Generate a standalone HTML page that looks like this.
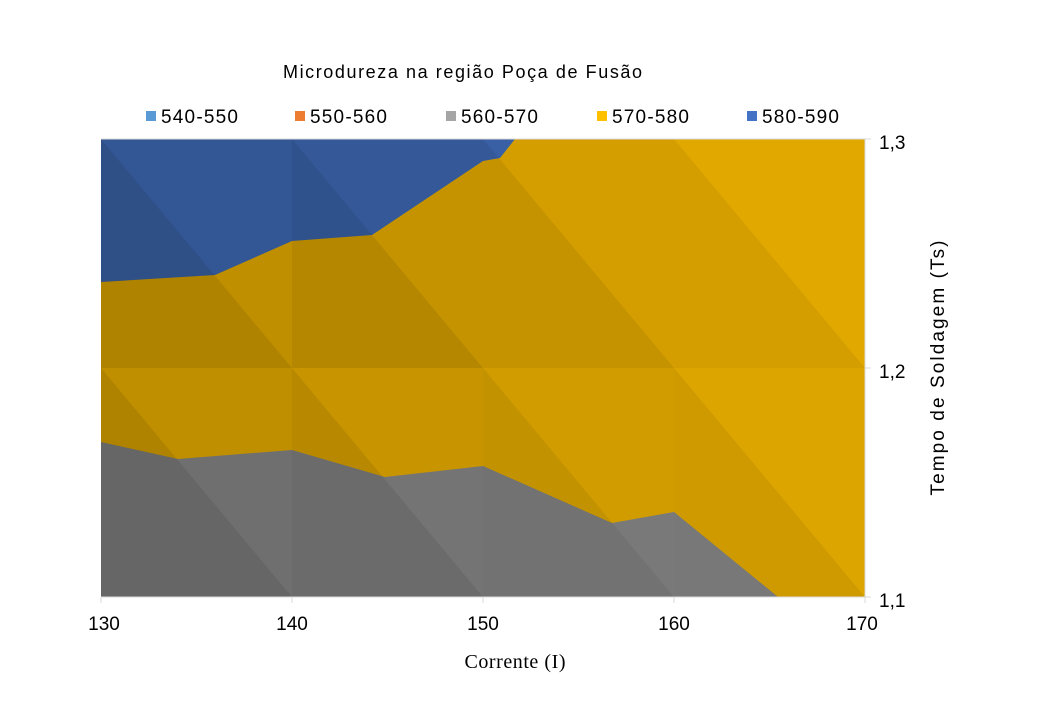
<!DOCTYPE html>
<html><head><style>
body{margin:0;background:#fff;}
svg text{font-family:"Liberation Sans",sans-serif;fill:#000;}
</style></head><body>
<svg width="1040" height="720" viewBox="0 0 1040 720" xmlns="http://www.w3.org/2000/svg">
<rect width="1040" height="720" fill="#fff"/>
<defs><clipPath id="pc"><rect x="101" y="139" width="764" height="458"/></clipPath></defs>
<g clip-path="url(#pc)">
<rect x="101" y="139" width="764" height="458" fill="#E6AC00"/>
<polygon points="101,139 515,139 500,158 483,161 372,235 292,241 215,275 101,282" fill="#3E68B2"/>
<polygon points="101,442 178,459 292,450 385,477 483,466 612,523 674,512 778,597 101,597" fill="#868686"/>
<g fill="#000">
<polygon points="101,139 292,139 292,368" opacity="0.17"/>
<polygon points="101,139 292,368 101,368" opacity="0.24"/>
<polygon points="292,139 483,139 483,368" opacity="0.14"/>
<polygon points="292,139 483,368 292,368" opacity="0.21"/>
<polygon points="483,139 674,139 674,368" opacity="0.08"/>
<polygon points="483,139 674,368 483,368" opacity="0.14"/>
<polygon points="674,139 865,139 865,368" opacity="0.02"/>
<polygon points="674,139 865,368 674,368" opacity="0.08"/>
<polygon points="101,368 292,368 292,597" opacity="0.17"/>
<polygon points="101,368 292,597 101,597" opacity="0.24"/>
<polygon points="292,368 483,368 483,597" opacity="0.13"/>
<polygon points="292,368 483,597 292,597" opacity="0.20"/>
<polygon points="483,368 674,368 674,597" opacity="0.09"/>
<polygon points="483,368 674,597 483,597" opacity="0.15"/>
<polygon points="674,368 865,368 865,597" opacity="0.04"/>
<polygon points="674,368 865,597 674,597" opacity="0.10"/>
</g>
</g>
<line x1="101" y1="139" x2="865" y2="139" stroke="#d9d9d9"/>
<line x1="101" y1="597" x2="865" y2="597" stroke="#d9d9d9"/>
<line x1="865" y1="139" x2="865" y2="597" stroke="#d9d9d9"/>
<g stroke="#d9d9d9">
<line x1="865" y1="139" x2="871" y2="139"/><line x1="865" y1="368" x2="871" y2="368"/><line x1="865" y1="597" x2="871" y2="597"/>
<line x1="101" y1="597" x2="101" y2="603"/><line x1="292" y1="597" x2="292" y2="603"/><line x1="483" y1="597" x2="483" y2="603"/><line x1="674" y1="597" x2="674" y2="603"/><line x1="865" y1="597" x2="865" y2="603"/>
</g>
<text x="283" y="78" font-size="18" textLength="359" lengthAdjust="spacing">Microdureza  na região Poça de Fusão</text>
<g font-size="19">
<rect x="146" y="111" width="10" height="10" fill="#5B9BD5"/><text x="161" y="123" textLength="77">540-550</text>
<rect x="295" y="111" width="10" height="10" fill="#ED7D31"/><text x="310" y="123" textLength="77">550-560</text>
<rect x="446" y="111" width="10" height="10" fill="#A5A5A5"/><text x="461" y="123" textLength="77">560-570</text>
<rect x="597" y="111" width="10" height="10" fill="#FFC000"/><text x="612" y="123" textLength="77">570-580</text>
<rect x="747" y="111" width="10" height="10" fill="#4472C4"/><text x="762" y="123" textLength="77">580-590</text>
</g>
<g font-size="19">
<text x="879" y="149">1,3</text><text x="879" y="378">1,2</text><text x="879" y="607">1,1</text>
<text x="104" y="630" text-anchor="middle">130</text><text x="292" y="630" text-anchor="middle">140</text><text x="483" y="630" text-anchor="middle">150</text><text x="674" y="630" text-anchor="middle">160</text><text x="862" y="630" text-anchor="middle">170</text>
</g>
<text transform="translate(944,368) rotate(-90)" font-size="19" text-anchor="middle" textLength="255" lengthAdjust="spacing">Tempo de  Soldagem  (Ts)</text>
<text x="515" y="668" font-size="20" text-anchor="middle" textLength="101" style="font-family:'Liberation Serif',serif">Corrente (I)</text>
</svg>
</body></html>
